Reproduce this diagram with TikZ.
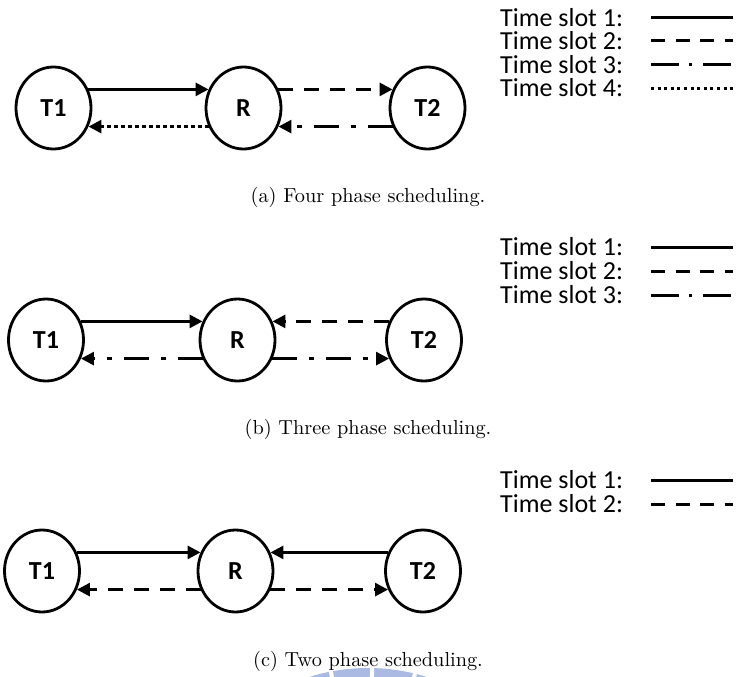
\documentclass[tikz,border=0pt]{standalone}
\usepackage{fontspec}
\setsansfont{Carlito}
\newfontfamily\capfont{lmroman10-regular.otf}
\usetikzlibrary{arrows.meta,calc,shapes.geometric}
\definecolor{wmblue}{RGB}{170,186,226}
\tikzset{
  nd/.style={ellipse,draw,line width=2.8pt,minimum width=75pt,minimum height=82pt,inner sep=0pt,
    font=\fontsize{26}{26}\selectfont\sffamily\bfseries},
  arr/.style={line width=2.8pt,-{Triangle[length=13pt,width=13pt]}},
  dsh/.style={dash pattern=on 15pt off 11pt},
  ddt/.style={dash pattern=on 25pt off 12pt on 5pt off 12pt},
  dtt/.style={dash pattern=on 3.5pt off 3.5pt},
  lg/.style={anchor=west,inner sep=0pt,font=\fontsize{26}{26}\selectfont\sffamily},
  leg/.style={line width=3pt},
  legdsh/.style={leg,dash pattern=on 14pt off 10.5pt},
  legddt/.style={leg,dash pattern=on 27.5pt off 10.5pt on 3.3pt off 11pt},
  legdtt/.style={line width=3pt,dash pattern=on 3pt off 3.6pt},
  captxt/.style={anchor=base,inner sep=0pt,font=\capfont\fontsize{20.3}{20.3}\selectfont}
}
\begin{document}
\begin{tikzpicture}[x=1pt,y=-1pt]
\useasboundingbox (0,0) rectangle (736,677);
% watermark fragment
\coordinate (C) at (368,866);
\fill[wmblue] ($(C)+(253:198)$) arc[start angle=253,end angle=287,radius=198]
  -- ($(C)+(287:170)$) arc[start angle=287,end angle=253,radius=170] -- cycle;
\foreach \a in {259.2,271.2,283.7}{
  \draw[white,line width=4pt] ($(C)+(\a:160)$) -- ($(C)+(\a:205)$);
}
% ---------------- (a) ----------------
\node[nd] (T1a) at (53.5,108) {T1};
\node[nd] (Ra) at (243.5,108) {R};
\node[nd] (T2a) at (427.5,108) {T2};
\draw[arr] (T1a.28) -- (Ra.152);
\draw[arr,dtt] (Ra.208) -- (T1a.-28);
\draw[arr,dsh] (Ra.28) -- (T2a.152);
\draw[arr,ddt] (T2a.208) -- (Ra.-28);
\node[lg] (la1) at (500,17.5) {Time slot 1:};
\node[lg] (la2) at (500,41) {Time slot 2:};
\node[lg] (la3) at (500,64.5) {Time slot 3:};
\node[lg] (la4) at (500,88) {Time slot 4:};
\coordinate (sa1) at (651,17.5); \coordinate (ea1) at (733,17.5);
\coordinate (sa2) at (651,41);   \coordinate (ea2) at (733,41);
\coordinate (sa3) at (651,64.5); \coordinate (ea3) at (733,64.5);
\coordinate (sa4) at (651,88);   \coordinate (ea4) at (733,88);
\draw[leg] (sa1) -- (ea1);
\draw[legdsh] (sa2) -- (ea2);
\draw[legddt] (sa3) -- (ea3);
\draw[legdtt] (sa4) -- (ea4);
\node[captxt] (capa) at (368,202) {(a)~Four phase scheduling.};
% ---------------- (b) ----------------
\node[nd] (T1b) at (46,340) {T1};
\node[nd] (Rb) at (237.5,340) {R};
\node[nd] (T2b) at (424,340) {T2};
\draw[arr] (T1b.28) -- (Rb.152);
\draw[arr,dsh] (T2b.152) -- (Rb.28);
\draw[arr,ddt] (Rb.208) -- (T1b.-28);
\draw[arr,ddt] (Rb.-28) -- (T2b.208);
\node[lg] (lb1) at (500,247) {Time slot 1:};
\node[lg] (lb2) at (500,271) {Time slot 2:};
\node[lg] (lb3) at (500,295) {Time slot 3:};
\coordinate (sb1) at (651,247); \coordinate (eb1) at (733,247);
\coordinate (sb2) at (651,271); \coordinate (eb2) at (733,271);
\coordinate (sb3) at (651,295); \coordinate (eb3) at (733,295);
\draw[leg] (sb1) -- (eb1);
\draw[legdsh] (sb2) -- (eb2);
\draw[legddt] (sb3) -- (eb3);
\node[captxt] (capb) at (368,434) {(b)~Three phase scheduling.};
% ---------------- (c) ----------------
\node[nd] (T1c) at (42,571) {T1};
\node[nd] (Rc) at (235.5,571) {R};
\node[nd] (T2c) at (423,571) {T2};
\draw[arr] (T1c.28) -- (Rc.152);
\draw[arr] (T2c.152) -- (Rc.28);
\draw[arr,dsh] (Rc.208) -- (T1c.-28);
\draw[arr,dsh] (Rc.-28) -- (T2c.208);
\node[lg] (lc1) at (500,480) {Time slot 1:};
\node[lg] (lc2) at (500,504) {Time slot 2:};
\coordinate (sc1) at (651,480); \coordinate (ec1) at (733,480);
\coordinate (sc2) at (651,504); \coordinate (ec2) at (733,504);
\draw[leg] (sc1) -- (ec1);
\draw[legdsh] (sc2) -- (ec2);
\node[captxt] (capc) at (368,666) {(c)~Two phase scheduling.};
\end{tikzpicture}
\end{document}
